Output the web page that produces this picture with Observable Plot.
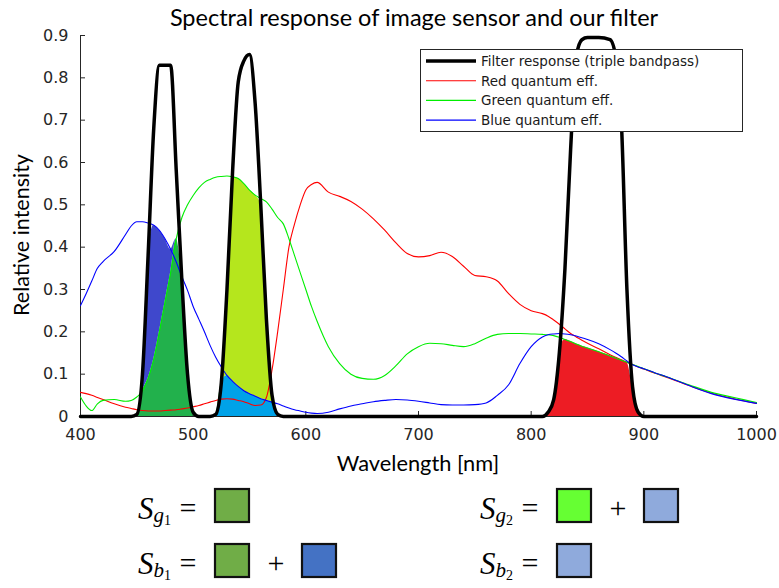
<!DOCTYPE html>
<html><head><meta charset="utf-8">
<script src="https://cdn.jsdelivr.net/npm/d3@7"></script>
<script src="https://cdn.jsdelivr.net/npm/@observablehq/plot@0.6"></script>
<style>
body{margin:0;background:#fff;}
#wrap{position:relative;width:779px;height:588px;overflow:hidden;background:#fff;}
#chart{position:absolute;left:0;top:0;}
#overlay{position:absolute;left:0;top:0;}
</style></head><body>
<div id="wrap"><div id="chart"></div><svg id="overlay" width="779" height="588"></svg></div>
<script>
// ---- data ----
const wavelength = [400,405,410,415,420, 430,440,445,450,455, 460,465,470,475,480, 485,490,495,500,505,
  510,515,520,525,530, 535,540,545,550,555, 560,565,570,575,580, 585,590,595,600,605,
  610,620,630,640,650, 660,670,680,690,700, 710,720,730,740,750, 760,770,780,790,800,
  810,815,820,825,830, 835,840,845,850,860, 870,875,880,885,890, 895,900,910,920,940, 960,980,1000];
const filterResp = [0,0,0,0,0, 0,0,0,0.005,0.1, 0.38,0.68,0.83,0.83,0.83, 0.58,0.32,0.1,0.01,0,
  0,0,0.005,0.08,0.3, 0.58,0.79,0.84,0.855,0.74, 0.5,0.23,0.05,0.005,0, 0,0,0,0,0,
  0,0,0,0,0, 0,0,0,0,0, 0,0,0,0,0, 0,0,0,0,0,
  0,0.01,0.04,0.15,0.35, 0.63,0.85,0.89,0.895,0.895, 0.89,0.85,0.7,0.3,0.07, 0.01,0,0,0,0, 0,0,0];
const redQE = [0.057,0.054,0.05,0.045,0.04, 0.03,0.022,0.019,0.016,0.014, 0.013,0.013,0.013,0.014,0.015, 0.016,0.018,0.02,0.023,0.026,
  0.03,0.034,0.038,0.041,0.042, 0.041,0.038,0.035,0.03,0.026, 0.027,0.045,0.11,0.2,0.3, 0.4,0.455,0.5,0.535,0.548,
  0.553,0.53,0.52,0.508,0.49, 0.467,0.44,0.41,0.385,0.377, 0.38,0.388,0.378,0.355,0.333, 0.33,0.32,0.29,0.265,0.25,
  0.243,0.237,0.228,0.218,0.207, 0.196,0.188,0.18,0.173,0.16, 0.146,0.14,0.134,0.128,0.123, 0.117,0.112,0.102,0.093,0.073, 0.055,0.042,0.031];
const greenQE = [0.046,0.025,0.014,0.03,0.038, 0.04,0.036,0.038,0.046,0.06, 0.09,0.135,0.2,0.27,0.34, 0.42,0.47,0.5,0.522,0.54,
  0.553,0.56,0.565,0.567,0.568, 0.566,0.562,0.55,0.535,0.523, 0.515,0.507,0.49,0.47,0.455, 0.42,0.38,0.34,0.3,0.26,
  0.225,0.165,0.125,0.1,0.09, 0.088,0.097,0.12,0.148,0.165, 0.173,0.172,0.168,0.165,0.172, 0.185,0.194,0.196,0.196,0.195,
  0.194,0.193,0.191,0.187,0.182, 0.177,0.171,0.166,0.162,0.153, 0.143,0.138,0.133,0.128,0.123, 0.118,0.113,0.103,0.094,0.075, 0.057,0.045,0.033];
const blueQE = [0.262,0.29,0.32,0.35,0.366, 0.39,0.43,0.45,0.46,0.46, 0.457,0.452,0.44,0.42,0.395, 0.365,0.33,0.298,0.26,0.23,
  0.2,0.168,0.14,0.117,0.097, 0.083,0.071,0.061,0.054,0.048, 0.042,0.038,0.034,0.03,0.025, 0.02,0.016,0.013,0.01,0.008,
  0.007,0.01,0.018,0.025,0.03, 0.035,0.038,0.04,0.039,0.036, 0.032,0.028,0.027,0.027,0.028, 0.032,0.05,0.075,0.125,0.165,
  0.188,0.193,0.195,0.196,0.195, 0.193,0.19,0.186,0.182,0.172, 0.158,0.15,0.141,0.131,0.122, 0.117,0.113,0.103,0.094,0.073, 0.054,0.041,0.031];
const xTicks = [400,500,600,700,800,900,1000];
const xTickLabels = ["400","500","600","700","800","900","1000"];
const yTicks = [0,0.1,0.2,0.3,0.4,0.5,0.6,0.7,0.8,0.9];
const yTickLabels = ["0","0.1","0.2","0.3","0.4","0.5","0.6","0.7","0.8","0.9"];
const legendLabels = ["Filter response (triple bandpass)","Red quantum eff.","Green quantum eff.","Blue quantum eff."];
const legendColors = ["#000000","#ff0000","#00ee00","#0000ff"];
const eqSub = ["g","b","g","b"];
const eqSubSub = ["1","1","2","2"];
const eqBoxes = [["#70ad47"],["#70ad47","#4472c4"],["#66ff33","#8faadc"],["#8faadc"]];

// ---- table ----
const rows = wavelength.map((w,i)=>({w, f: filterResp[i], r: redQE[i], g: greenQE[i], b: blueQE[i]}));
const band = (a,b)=>rows.filter(d=>d.w>=a && d.w<=b);
const band1 = band(445,505), band2 = band(515,580), band3 = band(810,900);
const curve = "monotone-x";

const chart = Plot.plot({
  width: 779, height: 480,
  marginLeft: 80, marginRight: 23, marginTop: 35, marginBottom: 64,
  x: {domain: [400,1000]},
  y: {domain: [0,0.9]},
  style: {fontFamily: "DejaVu Sans", fontSize: "16px", color: "#262626", background: "transparent", overflow: "visible"},
  marks: [
    // band 1
    Plot.areaY(band1, {x:"w", y1:0, y2:d=>Math.min(d.g,d.f), fill:"#22b14c", curve}),
    Plot.areaY(band1, {x:"w", y1:d=>Math.min(d.g,d.f), y2:d=>Math.max(Math.min(d.g,d.f), Math.min(d.b,d.f)), fill:"#3f48cc", curve}),
    // band 2
    Plot.areaY(band2, {x:"w", y1:0, y2:d=>Math.min(d.b,d.f), fill:"#00a2e8", curve}),
    Plot.areaY(band2, {x:"w", y1:d=>Math.min(d.b,d.f), y2:d=>Math.max(Math.min(d.b,d.f), Math.min(d.g,d.f)), fill:"#b5e61d", curve}),
    // band 3
    Plot.areaY(band3, {x:"w", y1:0, y2:d=>Math.min(d.r,d.g,d.b,d.f), fill:"#ed1c24", curve}),
    // axes
    Plot.ruleX([400], {stroke:"#262626"}),
    Plot.ruleY([0], {stroke:"#262626"}),
    Plot.axisY(yTicks, {tickSize:-5, tickPadding:17, tickFormat:d=>yTickLabels[yTicks.indexOf(d)], label:null}),
    Plot.axisX(xTicks, {tickSize:-5, tickPadding:17, tickFormat:d=>xTickLabels[xTicks.indexOf(d)], label:null}),
    // curves
    Plot.lineY(rows, {x:"w", y:"r", stroke:legendColors[1], strokeWidth:1.1, curve}),
    Plot.lineY(rows, {x:"w", y:"g", stroke:legendColors[2], strokeWidth:1.1, curve}),
    Plot.lineY(rows, {x:"w", y:"b", stroke:legendColors[3], strokeWidth:1.1, curve}),
    Plot.lineY(rows, {x:"w", y:"f", stroke:legendColors[0], strokeWidth:3.5, strokeLinejoin:"round", curve})
  ]
});
document.getElementById("chart").appendChild(chart);

// ---- overlay: title, axis labels, legend, equations ----
const svg = d3.select("#overlay");
svg.append("text").attr("x",414).attr("y",26).attr("text-anchor","middle")
  .style("font-family","Lato").style("font-size","23.5px").text("Spectral response of image sensor and our filter");
svg.append("text").attr("x",418).attr("y",471).attr("text-anchor","middle")
  .style("font-family","Lato").style("font-size","21.8px").text("Wavelength [nm]");
svg.append("text").attr("transform","translate(29,235) rotate(-90)").attr("text-anchor","middle")
  .style("font-family","Lato").style("font-size","21.5px").text("Relative intensity");

const lg = svg.append("g");
lg.append("rect").attr("x",420.5).attr("y",49.5).attr("width",322).attr("height",82)
  .attr("fill","#fff").attr("stroke","#262626").attr("stroke-width",1);
legendLabels.forEach((t,i)=>{
  const y = 61 + i*19.7;
  lg.append("line").attr("x1",426).attr("x2",476).attr("y1",y).attr("y2",y)
    .attr("stroke",legendColors[i]).attr("stroke-width", i===0?3.5:1.1);
  lg.append("text").attr("x",481).attr("y",y+5).style("font-family","DejaVu Sans").style("font-size","13.5px")
    .attr("fill","#1a1a1a").text(t);
});

const mathFont = "Liberation Serif";
eqSub.forEach((s,i)=>{
  const x0 = i<2 ? 138 : 480;
  const yb = (i%2===0) ? 519 : 574;
  const t = svg.append("text").attr("x",x0).attr("y",yb).style("font-family",mathFont).style("font-size","31px");
  t.append("tspan").style("font-style","italic").text("S");
  t.append("tspan").style("font-style","italic").style("font-size","21px").attr("dy",3).text(s);
  t.append("tspan").style("font-size","14px").attr("dy",3).text(eqSubSub[i]);
  svg.append("text").attr("x",x0+50).attr("y",yb-1).attr("text-anchor","middle")
    .style("font-family",mathFont).style("font-size","30px").text("=");
  eqBoxes[i].forEach((c,j)=>{
    const bx = x0 + 77 + j*87;
    svg.append("rect").attr("x",bx).attr("y",yb-30).attr("width",34).attr("height",33)
      .attr("fill",c).attr("stroke","#111").attr("stroke-width",2.2);
    if (j>0) svg.append("text").attr("x",x0+138).attr("y",yb-1).attr("text-anchor","middle")
      .style("font-family",mathFont).style("font-size","30px").text("+");
  });
});
</script>
</body></html>
